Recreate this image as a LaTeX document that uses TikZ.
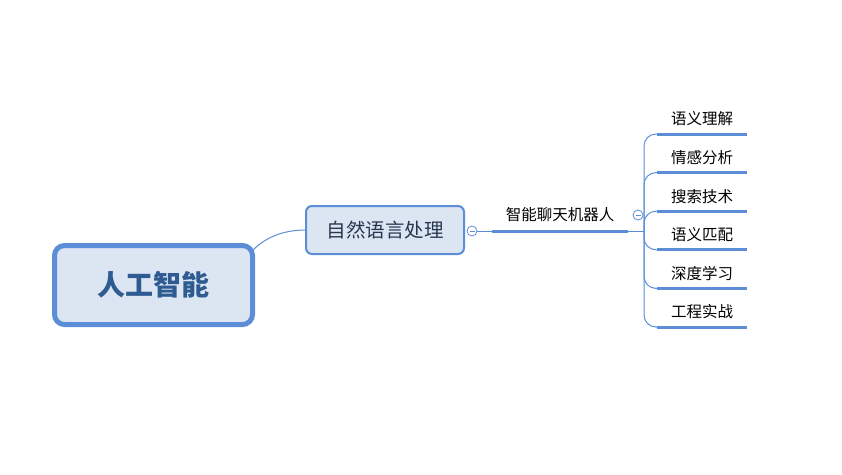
\documentclass[tikz,border=0pt]{standalone}
\usepackage{fontspec}
\newfontfamily\cjk{Noto Sans CJK SC}
\usetikzlibrary{calc}
\definecolor{lineblue}{RGB}{91,142,214}
\definecolor{fillblue}{RGB}{220,230,242}
\definecolor{roottext}{RGB}{47,91,147}
\definecolor{subtext}{RGB}{40,55,80}
\begin{document}
\begin{tikzpicture}[x=1pt,y=-1pt,
  rootbox/.style={draw=lineblue, line width=5pt, fill=fillblue, rounded corners=10pt,
    minimum width=198pt, minimum height=79pt, inner sep=0pt, outer sep=0pt,
    font=\cjk\bfseries\fontsize{28}{30}\selectfont, text=roottext},
  subbox/.style={draw=lineblue, line width=2pt, fill=fillblue, rounded corners=6pt,
    minimum width=158pt, minimum height=48pt, inner sep=0pt, outer sep=0pt,
    font=\cjk\fontsize{19.5}{22}\selectfont, text=subtext},
  midtopic/.style={minimum width=136pt, minimum height=32pt, inner sep=0pt, outer sep=0pt,
    font=\cjk\fontsize{15.5}{17}\selectfont, text=black},
  leaftopic/.style={minimum width=90pt, minimum height=30pt, inner sep=0pt, outer sep=0pt,
    font=\cjk\fontsize{15.5}{17}\selectfont, text=black},
  thinline/.style={draw=lineblue, line width=1pt},
  thickline/.style={draw=lineblue, line width=3pt},
  collapse/.style={circle, draw=lineblue, line width=0.8pt, fill=white, minimum size=10pt,
    inner sep=0pt, outer sep=0pt,
    path picture={\draw[lineblue, line width=0.8pt]
      ([xshift=-2.5pt]path picture bounding box.center) --
      ([xshift=2.5pt]path picture bounding box.center);}}
]
\useasboundingbox (0,0) rectangle (842,474);

% nodes
\node[rootbox] (root) at (153.5,285) {人工智能};
\node[subbox] (nlp) at (385,230) {自然语言处理};
\node[midtopic] (bot) at (560,215) {智能聊天机器人};
\coordinate (spine) at (644,231);

\node[leaftopic] (l1) at (702,119)   {语义理解};
\node[leaftopic] (l2) at (702,157.6) {情感分析};
\node[leaftopic] (l3) at (702,196.2) {搜索技术};
\node[leaftopic] (l4) at (702,234.8) {语义匹配};
\node[leaftopic] (l5) at (702,273.4) {深度学习};
\node[leaftopic] (l6) at (702,312)   {工程实战};

% connectors
\draw[thinline] ($(root.north east)+(0,5)$) .. controls +(12,-12) and +(-25,0) .. (nlp.west);
\node[collapse] (c1) at (472,231) {};
\draw[thinline] (c1.east) -- (bot.south west);
\draw[thickline] (bot.south west) -- (bot.south east);
\draw[thinline] (bot.south east) -- (spine);

\foreach \l in {l1,l2,l3,l4,l5,l6}{
  \draw[thinline, rounded corners=12pt] (spine) |- (\l.south west);
  \draw[thickline] (\l.south west) -- (\l.south east);
}
\node[collapse] (c2) at (638,215) {};
\end{tikzpicture}
\end{document}
